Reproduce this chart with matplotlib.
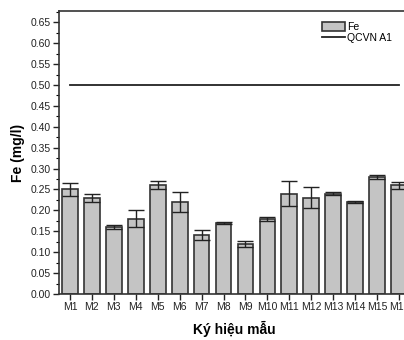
import matplotlib.pyplot as plt
import numpy as np
from matplotlib.ticker import MultipleLocator

plt.rcParams['font.family'] = ['Liberation Sans', 'DejaVu Sans']

samples = ['M1', 'M2', 'M3', 'M4', 'M5', 'M6', 'M7', 'M8',
           'M9', 'M10', 'M11', 'M12', 'M13', 'M14', 'M15', 'M16']
fe = [0.25, 0.23, 0.16, 0.18, 0.26, 0.22, 0.14, 0.17,
      0.12, 0.18, 0.24, 0.23, 0.24, 0.22, 0.28, 0.26]
fe_err = [0.015, 0.01, 0.004, 0.02, 0.01, 0.025, 0.012, 0.003,
          0.007, 0.005, 0.03, 0.025, 0.003, 0.002, 0.005, 0.008]
qcvn_a1 = 0.50

x = np.arange(1, len(samples) + 1)

fig = plt.figure(figsize=(4.04, 3.4), dpi=100)
# axes run past the right edge, like the cropped original
ax = fig.add_axes([59/404, 46/340, 351/404, 283/340])

bars = ax.bar(x, fe, width=0.72, color='#c4c4c4', edgecolor='#333333',
              linewidth=1.2, label='Fe', zorder=2)
ax.errorbar(x, fe, yerr=fe_err, fmt='none', ecolor='#222222', elinewidth=1.0,
            capsize=5.5, capthick=1.0, zorder=3)
line, = ax.plot([x[0], x[-1]], [qcvn_a1, qcvn_a1], color='#222222', lw=1.3,
                label='QCVN A1', zorder=3)

ax.set_xlim(0.5, 16.5)
ax.set_ylim(0, 0.677)
ax.set_xticks(x)
ax.set_xticklabels(samples)
ax.yaxis.set_major_locator(MultipleLocator(0.05))
ax.yaxis.set_minor_locator(MultipleLocator(0.025))
ax.yaxis.set_major_formatter(plt.FormatStrFormatter('%.2f'))
ax.tick_params(axis='both', which='major', direction='out', length=4,
               width=1, labelsize=7.5, colors='#222222', pad=2)
ax.tick_params(axis='y', which='minor', direction='out', length=2, width=0.8)

for s in ax.spines.values():
    s.set_linewidth(1.2)
    s.set_color('#333333')

ax.set_ylabel('Fe (mg/l)', fontsize=10, fontweight='bold', labelpad=4)
ax.set_xlabel('Ký hiệu mẫu', fontsize=10, fontweight='bold', labelpad=6)

ax.legend(handles=[bars, line], loc='upper left', bbox_to_anchor=(0.737, 0.975),
          frameon=False, fontsize=7.5, handlelength=2.2, handleheight=0.9,
          handletextpad=0.2, labelspacing=0.1, borderaxespad=0)

fig.savefig('out.png', dpi=100)
